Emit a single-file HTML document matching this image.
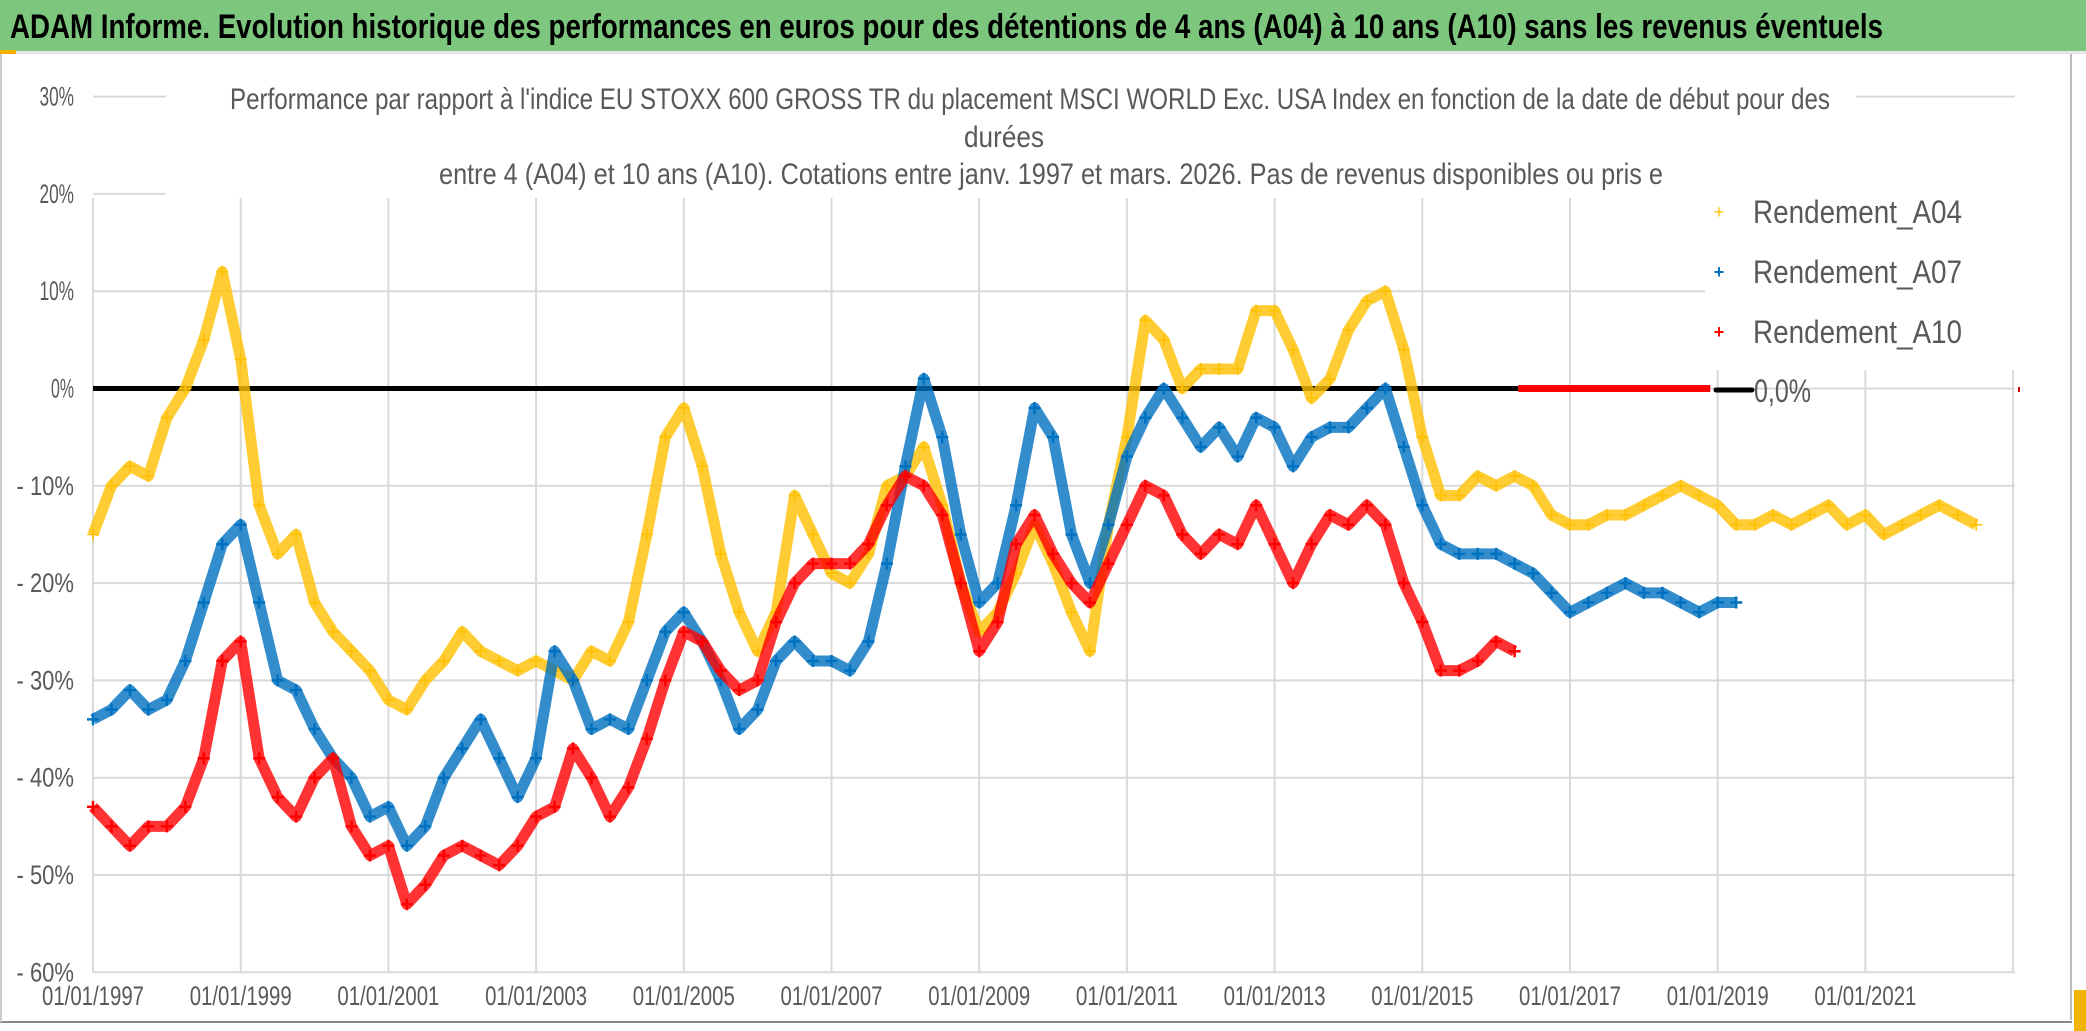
<!DOCTYPE html>
<html><head><meta charset="utf-8"><style>
html,body{margin:0;padding:0;background:#fff;}
svg{display:block;font-family:"Liberation Sans",sans-serif;}
</style></head><body>
<svg id="chart" width="2086" height="1031" viewBox="0 0 2086 1031" xmlns="http://www.w3.org/2000/svg">
<rect x="0" y="0" width="2086" height="1031" fill="#fff"/>
<rect x="0" y="0" width="2086" height="51" fill="#7dc67e"/>
<rect x="0" y="51" width="2086" height="3" fill="#e6e6e6"/>
<rect x="0" y="50" width="16" height="4" fill="#f0b400"/>
<rect x="2070" y="54" width="16" height="977" fill="#fff"/>
<line x1="2071" y1="54" x2="2071" y2="1020" stroke="#bbb" stroke-width="2"/>
<rect x="2074" y="990" width="12" height="41" fill="#f0b400"/>
<line x1="0" y1="1022" x2="2072" y2="1022" stroke="#888" stroke-width="2"/>
<line x1="1" y1="54" x2="1" y2="1022" stroke="#ccc" stroke-width="2"/>
<text x="10" y="38" font-size="34" font-weight="bold" fill="#000" textLength="1873" lengthAdjust="spacingAndGlyphs">ADAM Informe. Evolution historique des performances en euros pour des détentions de 4 ans (A04) à 10 ans (A10) sans les revenus éventuels</text>
<g id="grid"></g>
<rect x="166" y="80" width="1690" height="115" fill="#fff"/>
<text x="230" y="109" font-size="30" fill="#595959" textLength="1600" lengthAdjust="spacingAndGlyphs">Performance par rapport à l'indice EU STOXX 600 GROSS TR  du placement MSCI WORLD Exc. USA Index en fonction de la date de début pour des</text>
<text x="1004" y="147" font-size="30" fill="#595959" text-anchor="middle" textLength="80" lengthAdjust="spacingAndGlyphs">durées</text>
<text x="439" y="184" font-size="30" fill="#595959" textLength="1224" lengthAdjust="spacingAndGlyphs">entre 4 (A04) et 10 ans (A10). Cotations entre janv. 1997 et mars. 2026. Pas de revenus disponibles ou pris e</text>
<g id="axes"></g>
<g id="series"></g>
<rect x="1705" y="190" width="312" height="180" fill="#fff"/>
<g>
<g><text x="1719" y="218" font-size="18" fill="#FFC000" text-anchor="middle">+</text><text x="1753" y="223" font-size="32" fill="#595959" textLength="209" lengthAdjust="spacingAndGlyphs">Rendement_A04</text></g>
<g><text x="1719" y="278" font-size="18" fill="#0070C0" font-weight="bold" text-anchor="middle">+</text><text x="1753" y="283" font-size="32" fill="#595959" textLength="209" lengthAdjust="spacingAndGlyphs">Rendement_A07</text></g>
<g><text x="1719" y="338" font-size="18" fill="#FF0000" font-weight="bold" text-anchor="middle">+</text><text x="1753" y="343" font-size="32" fill="#595959" textLength="209" lengthAdjust="spacingAndGlyphs">Rendement_A10</text></g>
<g><line x1="1716" y1="390" x2="1752" y2="390" stroke="#000" stroke-width="5" stroke-linecap="round"/><text x="1754" y="402" font-size="32" fill="#595959" textLength="57" lengthAdjust="spacingAndGlyphs">0,0%</text></g>
<rect x="2018" y="387" width="2" height="5" fill="#c00"/>
</g>
</svg>
<script>
const a04 = [-15,-10,-8,-9,-3,0,5,12,3,-12,-17,-15,-22,-25,-27,-29,-32,-33,-30,-28,-25,-27,-28,-29,-28,-29,-30,-27,-28,-24,-15,-5,-2,-8,-17,-23,-27,-23,-11,-15,-19,-20,-17,-10,-9,-6,-12,-20,-25,-23,-19,-14,-18,-23,-27,-14,-5,7,5,0,2,2,2,8,8,4,-1,1,6,9,10,4,-5,-11,-11,-9,-10,-9,-10,-13,-14,-14,-13,-13,-12,-11,-10,-11,-12,-14,-14,-13,-14,-13,-12,-14,-13,-15,-14,-13,-12,-13,-14];
const a07 = [-34,-33,-31,-33,-32,-28,-22,-16,-14,-22,-30,-31,-35,-38,-40,-44,-43,-47,-45,-40,-37,-34,-38,-42,-38,-27,-30,-35,-34,-35,-30,-25,-23,-26,-30,-35,-33,-28,-26,-28,-28,-29,-26,-18,-8,1,-5,-15,-22,-20,-12,-2,-5,-15,-20,-14,-7,-3,0,-3,-6,-4,-7,-3,-4,-8,-5,-4,-4,-2,0,-6,-12,-16,-17,-17,-17,-18,-19,-21,-23,-22,-21,-20,-21,-21,-22,-23,-22,-22];
const a10 = [-43,-45,-47,-45,-45,-43,-38,-28,-26,-38,-42,-44,-40,-38,-45,-48,-47,-53,-51,-48,-47,-48,-49,-47,-44,-43,-37,-40,-44,-41,-36,-30,-25,-26,-29,-31,-30,-24,-20,-18,-18,-18,-16,-12,-9,-10,-13,-20,-27,-24,-16,-13,-17,-20,-22,-18,-14,-10,-11,-15,-17,-15,-16,-12,-16,-20,-16,-13,-14,-12,-14,-20,-24,-29,-29,-28,-26,-27];
const startYear = 1997, stepYear = 0.25;
const a10ZeroRange = [2016.3, 2018.9];
const yTicks = [30,20,10,0,-10,-20,-30,-40,-50,-60];
const xTickYears = [1997,1999,2001,2003,2005,2007,2009,2011,2013,2015,2017,2019,2021,2023];

const NS = "http://www.w3.org/2000/svg";
const X = y => 93 + (y - 1997) * 73.85;
const Y = v => 388.5 - v * 9.73;
function mk(tag, attrs, parent){const e=document.createElementNS(NS,tag);for(const k in attrs)e.setAttribute(k,attrs[k]);parent.appendChild(e);return e;}
const grid=document.getElementById('grid'), axes=document.getElementById('axes'), ser=document.getElementById('series');
yTicks.forEach(t=>{
  const l=mk('line',{x1:93,x2:2015,y1:Y(t),y2:Y(t),stroke:'#d9d9d9','stroke-width':2},grid);
  
  
  const s=(t<0?'- '+(-t):t)+'%';
  const tx=mk('text',{x:74,y:Y(t)+9,'font-size':27,fill:'#595959','text-anchor':'end',textLength:s.length*11.5,lengthAdjust:'spacingAndGlyphs'},axes);
  tx.textContent=s;
  
  
});
xTickYears.forEach(yr=>{
  const l=mk('line',{x1:X(yr),x2:X(yr),y1:198,y2:Y(-60),stroke:'#d9d9d9','stroke-width':2},grid);
  
  
  if(yr<2023){
    const tx=mk('text',{x:X(yr),y:1005,'font-size':27,fill:'#595959','text-anchor':'middle',textLength:102,lengthAdjust:'spacingAndGlyphs'},axes);
    tx.textContent='01/01/'+yr;
    
    
  }
});
const zl=mk('line',{x1:X(1997),x2:X(a10ZeroRange[0]),y1:Y(0),y2:Y(0),stroke:'#000','stroke-width':5},ser);


function drawSeries(vals,color,name,bold){
  const g=mk('g',{},ser);
  
  
  const pts=vals.map((v,i)=>X(startYear+i*stepYear)+','+Y(v)).join(' ');
  const pl=mk('polyline',{points:pts,fill:'none',stroke:color,'stroke-width':11,'stroke-linejoin':'round','stroke-opacity':0.8},g);
  
  
  vals.forEach((v,i)=>{
    const x=X(startYear+i*stepYear), y=Y(v);
    const p=mk('path',{d:`M${x-6} ${y}H${x+6}M${x} ${y-6}V${y+6}`,stroke:color,'stroke-width':bold?2.5:1.6},g);
    
    
  });
}
drawSeries(a04,'#FFC000','series-a04',false);
drawSeries(a07,'#0070C0','series-a07',true);
drawSeries(a10,'#FF0000','series-a10',true);
const rz=mk('line',{x1:X(a10ZeroRange[0]),x2:X(a10ZeroRange[1]),y1:Y(0),y2:Y(0),stroke:'#FF0000','stroke-width':7},ser);


</script>
</body></html>
